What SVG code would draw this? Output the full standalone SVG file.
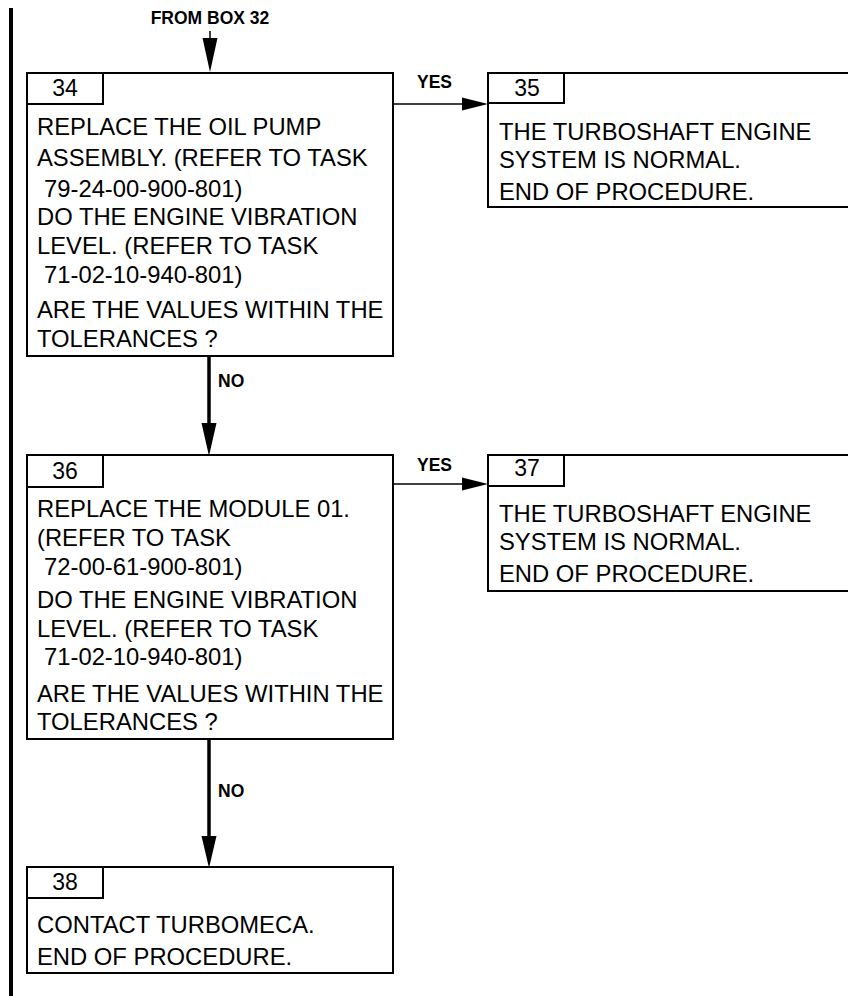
<svg xmlns="http://www.w3.org/2000/svg" width="848" height="996" viewBox="0 0 848 996">
<style>
.box{fill:#fff;stroke:#000;stroke-width:2}
.tab{fill:none;stroke:#000;stroke-width:2}
.t{font-family:"Liberation Sans",Arial,sans-serif;font-size:23.8px;fill:#000}
.n{font-family:"Liberation Sans",Arial,sans-serif;font-size:23px;fill:#000;text-anchor:middle}
.lbl{font-family:"Liberation Sans",Arial,sans-serif;font-size:17.5px;font-weight:bold;fill:#000}
.thin{stroke:#000;stroke-width:1.5;fill:none}
.thick{stroke:#000;stroke-width:3.5;fill:none}
.head{fill:#000;stroke:none}
</style>
<rect x="0" y="0" width="848" height="996" fill="#fff"/>
<rect x="9" y="8" width="4" height="988" fill="#000"/>
<g id="connectors">
<text class="lbl" x="210" y="24" text-anchor="middle">FROM BOX 32</text>
<line class="thin" x1="210" y1="31" x2="210" y2="40"/>
<polygon class="head" points="202.5,38 217.5,38 210,72"/>
<line class="thin" x1="393" y1="104" x2="464" y2="104"/>
<polygon class="head" points="462,97.5 488,104 462,110.5"/>
<text class="lbl" x="417" y="88">YES</text>
<line class="thick" x1="209" y1="356" x2="209" y2="425"/>
<polygon class="head" points="201.5,423 216.5,423 209,456"/>
<text class="lbl" x="218" y="387">NO</text>
<line class="thin" x1="393" y1="484" x2="464" y2="484"/>
<polygon class="head" points="462,477.5 488,484 462,490.5"/>
<text class="lbl" x="417" y="471">YES</text>
<line class="thick" x1="209" y1="739" x2="209" y2="838"/>
<polygon class="head" points="201.5,836 216.5,836 209,868"/>
<text class="lbl" x="218" y="797">NO</text>
</g>
<g id="box34">
<rect class="box" x="27" y="73" width="366" height="283"/>
<polyline class="tab" points="27,104 103,104 103,73"/>
<text class="n" x="65" y="96">34</text>
<text class="t" x="37" y="135">REPLACE THE OIL PUMP</text>
<text class="t" x="37" y="166">ASSEMBLY. (REFER TO TASK</text>
<text class="t" x="44" y="197">79-24-00-900-801)</text>
<text class="t" x="37" y="225">DO THE ENGINE VIBRATION</text>
<text class="t" x="37" y="254">LEVEL. (REFER TO TASK</text>
<text class="t" x="44" y="283">71-02-10-940-801)</text>
<text class="t" x="37" y="318">ARE THE VALUES WITHIN THE</text>
<text class="t" x="37" y="347">TOLERANCES ?</text>
</g>
<g id="box35">
<rect class="box" x="488" y="73" width="370" height="134"/>
<polyline class="tab" points="488,103 564,103 564,73"/>
<text class="n" x="527" y="96">35</text>
<text class="t" x="499" y="140">THE TURBOSHAFT ENGINE</text>
<text class="t" x="499" y="168">SYSTEM IS NORMAL.</text>
<text class="t" x="499" y="200">END OF PROCEDURE.</text>
</g>
<g id="box36">
<rect class="box" x="27" y="455" width="366" height="284"/>
<polyline class="tab" points="27,487 103,487 103,455"/>
<text class="n" x="65" y="479">36</text>
<text class="t" x="37" y="517">REPLACE THE MODULE 01.</text>
<text class="t" x="37" y="546">(REFER TO TASK</text>
<text class="t" x="44" y="575">72-00-61-900-801)</text>
<text class="t" x="37" y="608">DO THE ENGINE VIBRATION</text>
<text class="t" x="37" y="637">LEVEL. (REFER TO TASK</text>
<text class="t" x="44" y="665">71-02-10-940-801)</text>
<text class="t" x="37" y="702">ARE THE VALUES WITHIN THE</text>
<text class="t" x="37" y="730">TOLERANCES ?</text>
</g>
<g id="box37">
<rect class="box" x="488" y="455" width="370" height="136"/>
<polyline class="tab" points="488,486 564,486 564,455"/>
<text class="n" x="527" y="476">37</text>
<text class="t" x="499" y="522">THE TURBOSHAFT ENGINE</text>
<text class="t" x="499" y="550">SYSTEM IS NORMAL.</text>
<text class="t" x="499" y="582">END OF PROCEDURE.</text>
</g>
<g id="box38">
<rect class="box" x="27" y="867" width="366" height="106"/>
<polyline class="tab" points="27,898 103,898 103,867"/>
<text class="n" x="65" y="890">38</text>
<text class="t" x="37" y="933">CONTACT TURBOMECA.</text>
<text class="t" x="37" y="965">END OF PROCEDURE.</text>
</g>
</svg>
